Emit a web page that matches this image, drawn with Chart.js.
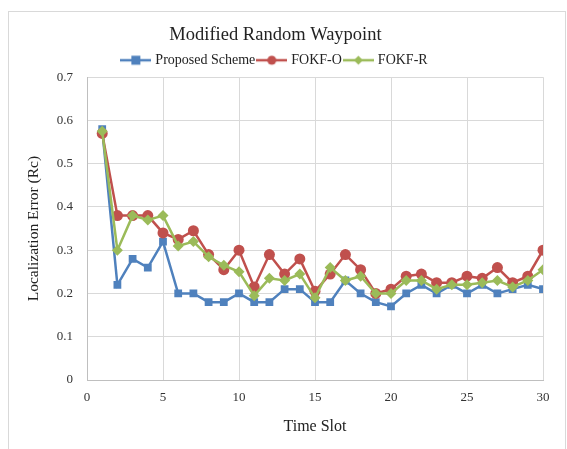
<!DOCTYPE html>
<html><head><meta charset="utf-8">
<script src="https://cdn.jsdelivr.net/npm/chart.js@4/dist/chart.umd.min.js"></script>
<style>html,body{margin:0;padding:0;background:#fff}#wrap{width:567px;height:449px}</style>
</head><body><div id="wrap"><canvas id="c" width="567" height="449"></canvas></div>
<script>
const timeSlots = [1,2,3,4,5,6,7,8,9,10,11,12,13,14,15,16,17,18,19,20,21,22,23,24,25,26,27,28,29,30];
const proposed = [0.58,0.22,0.28,0.26,0.32,0.20,0.20,0.18,0.18,0.20,0.18,0.18,0.21,0.21,0.18,0.18,0.23,0.20,0.18,0.17,0.20,0.22,0.20,0.22,0.20,0.22,0.20,0.21,0.22,0.21];
const fokfO = [0.57,0.38,0.38,0.38,0.34,0.325,0.345,0.29,0.255,0.30,0.215,0.29,0.245,0.28,0.205,0.245,0.29,0.255,0.20,0.21,0.24,0.245,0.225,0.225,0.24,0.235,0.26,0.225,0.24,0.30];
const fokfR = [0.575,0.30,0.38,0.37,0.38,0.31,0.32,0.285,0.265,0.25,0.195,0.235,0.23,0.245,0.19,0.26,0.23,0.24,0.20,0.20,0.23,0.23,0.21,0.22,0.22,0.225,0.23,0.215,0.23,0.255];
const seriesNames = ['Proposed Scheme','FOKF-O','FOKF-R'];
const xTicks = [0,5,10,15,20,25,30];
const yTicks = [0,0.1,0.2,0.3,0.4,0.5,0.6,0.7];

const colors = ['#4F81BD','#C0504D','#9BBB59'];
const styles = ['rect','circle','rectRot'];
const radii = [5.5,5.5,5.5];

function legendImg(color, style){
  const cv = document.createElement('canvas');
  cv.width = 31; cv.height = 12;
  const g = cv.getContext('2d');
  g.strokeStyle = color; g.lineWidth = 2.5;
  g.beginPath(); g.moveTo(0,6); g.lineTo(31,6); g.stroke();
  g.fillStyle = color;
  const c = 15.5;
  if(style==='rect'){ g.fillRect(c-4.5,1.5,9,9); }
  else if(style==='circle'){ g.beginPath(); g.arc(c,6,4.5,0,Math.PI*2); g.fill(); }
  else { g.beginPath(); g.moveTo(c,1.5); g.lineTo(c+4.5,6); g.lineTo(c,10.5); g.lineTo(c-4.5,6); g.closePath(); g.fill(); }
  return cv;
}
const legendImgs = colors.map((c,i)=>legendImg(c,styles[i]));

function mk(vals){ return timeSlots.map((t,i)=>({x:t,y:vals[i]})); }
const allVals = [proposed, fokfO, fokfR];

const frame = {
  id:'frame',
  beforeDraw(chart){
    const ctx = chart.ctx;
    ctx.save();
    ctx.strokeStyle = '#D9D9D9'; ctx.lineWidth = 1;
    ctx.strokeRect(8.5, 11.5, 557, 460);
    ctx.restore();
  }
};

new Chart(document.getElementById('c'), {
  type:'line',
  data:{
    datasets: allVals.map((v,i)=>({
      label: seriesNames[i],
      data: mk(v),
      borderColor: colors[i],
      backgroundColor: colors[i],
      borderWidth: 2.5,
      pointStyle: styles[i],
      pointRadius: radii[i],
      pointHoverRadius: radii[i],
      pointBorderWidth: 0,
      tension: 0,
      order: 3-i
    }))
  },
  plugins:[frame],
  options:{
    responsive:false,
    animation:false,
    layout:{padding:{left:8,right:24,top:14,bottom:10}},
    plugins:{
      tooltip:{enabled:false},
      title:{display:true,text:'Modified Random Waypoint',color:'#222',
        font:{family:'Liberation Serif',size:18.5,weight:'normal'},padding:{top:10,bottom:3}},
      legend:{display:true,position:'top',
        labels:{
          color:'#222',font:{family:'Liberation Serif',size:14},
          usePointStyle:true,boxWidth:25,boxHeight:12,pointStyleWidth:25,padding:4,
          generateLabels(chart){
            return chart.data.datasets.map((d,i)=>({
              text:d.label, fillStyle:d.borderColor, strokeStyle:d.borderColor,
              lineWidth:0, pointStyle:legendImgs[i], datasetIndex:i, hidden:false, fontColor:'#222'
            }));
          }
        }
      }
    },
    scales:{
      x:{type:'linear',min:0,max:30,
        afterBuildTicks(s){ s.ticks = xTicks.map(v=>({value:v})); },
        grid:{color:'#D9D9D9',lineWidth:1,drawTicks:false},
        border:{color:'#BFBFBF'},
        ticks:{color:'#333',font:{family:'Liberation Serif',size:13},padding:10},
        title:{display:true,text:'Time Slot',color:'#222',font:{family:'Liberation Serif',size:16},padding:{top:5,bottom:3}},
        afterFit(s){ s.height = 59; }
      },
      y:{min:0,max:0.7,
        afterBuildTicks(s){ s.ticks = yTicks.map(v=>({value:v})); },
        grid:{color:'#D9D9D9',lineWidth:1,drawTicks:false},
        border:{color:'#BFBFBF'},
        ticks:{color:'#333',font:{family:'Liberation Serif',size:13},padding:14,
          callback:v=>String(Math.round(v*10)/10)},
        title:{display:true,text:'Localization Error (Rc)',color:'#222',font:{family:'Liberation Serif',size:15.5},padding:{top:17,bottom:0}},
        afterFit(s){ s.width = 79; }
      }
    }
  }
});
</script></body></html>
